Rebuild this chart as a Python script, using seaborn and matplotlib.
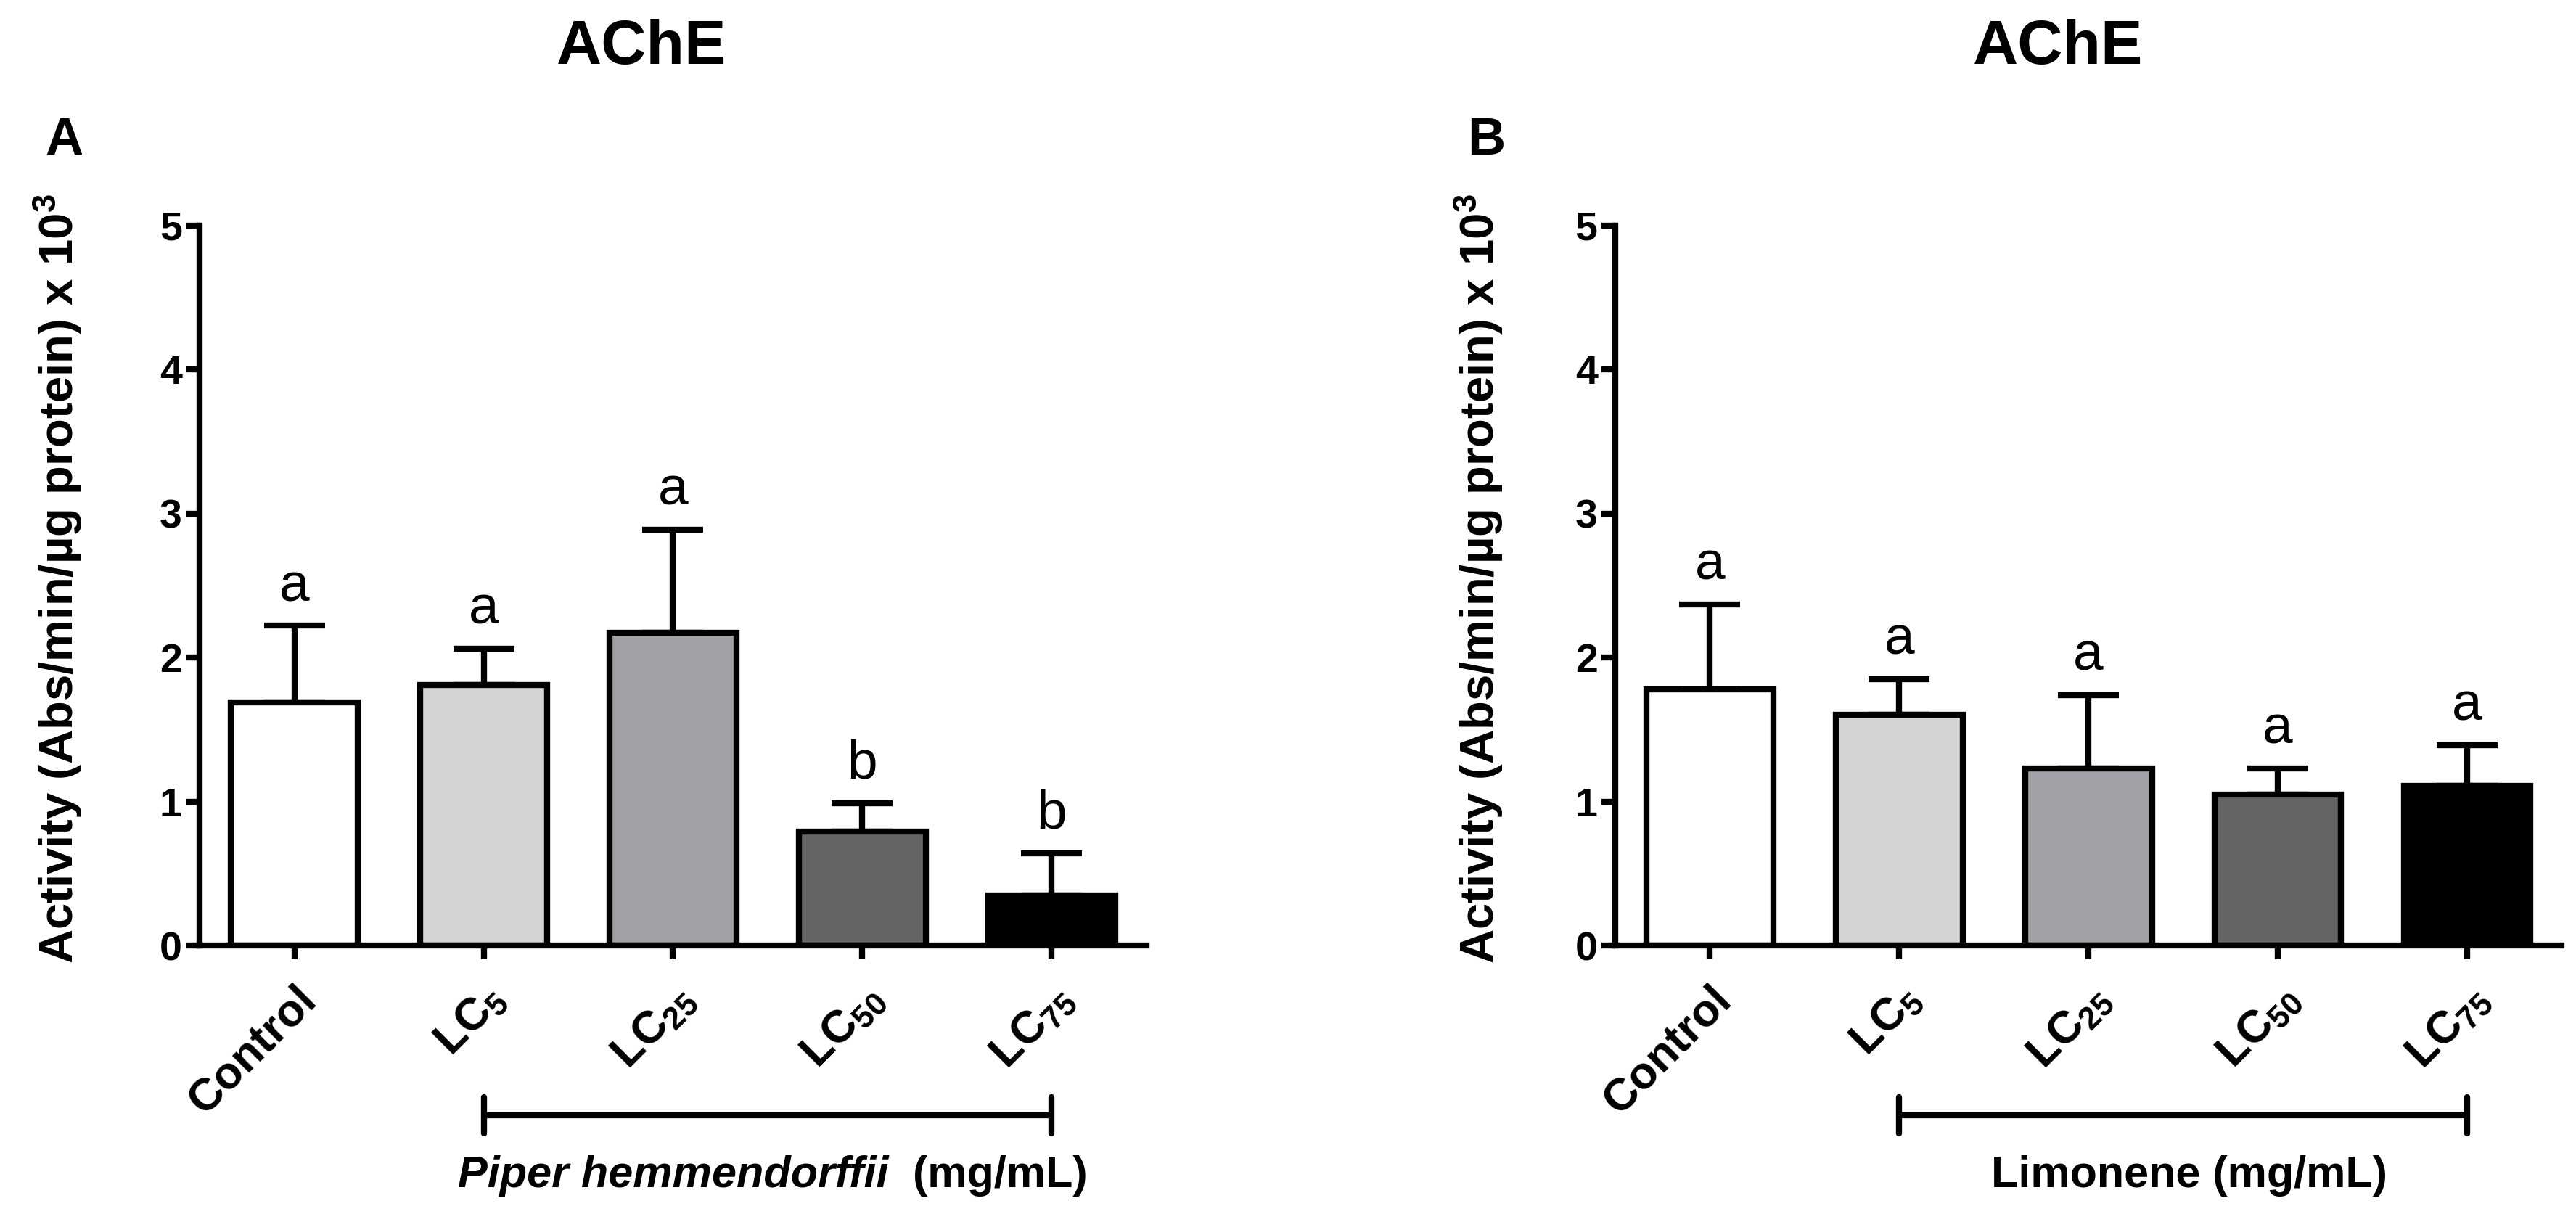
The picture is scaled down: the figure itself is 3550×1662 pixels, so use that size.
import matplotlib
matplotlib.use("Agg")
import matplotlib.pyplot as plt
import matplotlib.transforms as mtransforms
import numpy as np
import pandas as pd
import seaborn as sns

# data
groups = ["Control", "LC5", "LC25", "LC50", "LC75"]
tick_labels = ["Control", "LC$_{5}$", "LC$_{25}$", "LC$_{50}$", "LC$_{75}$"]
bar_colors = ["#ffffff", "#d4d4d4", "#a1a0a6", "#646464", "#000000"]

piper_mean = [1.69, 1.81, 2.17, 0.79, 0.35]
piper_sem = [0.53, 0.25, 0.72, 0.20, 0.29]
piper_letters = ["a", "a", "a", "b", "b"]

limonene_mean = [1.78, 1.60, 1.23, 1.05, 1.11]
limonene_sem = [0.59, 0.25, 0.51, 0.18, 0.28]
limonene_letters = ["a", "a", "a", "a", "a"]

plt.rcParams["font.family"] = ["Liberation Sans", "DejaVu Sans"]
plt.rcParams["mathtext.default"] = "regular"

LW = 6
TICK_FS = 40
YLABEL = "Activity (Abs/min/\u00b5g protein) x 10$^{3}$"

fig = plt.figure(figsize=(35.5, 16.62), dpi=100)
fig.set_facecolor("w")


def draw_panel(ax, means, sems, letters):
    df = pd.DataFrame({"group": groups, "activity": means})
    sns.barplot(data=df, x="group", y="activity", hue="group", order=groups,
                hue_order=groups, palette=bar_colors, legend=False,
                edgecolor="black", linewidth=LW, width=0.67, saturation=1,
                errorbar=None, ax=ax)
    x = np.arange(len(groups))
    ax.errorbar(x, means, yerr=[np.zeros(len(sems)), sems], fmt="none",
                ecolor="black", elinewidth=LW, capsize=30, capthick=LW, zorder=0.5)
    tops = np.array(means) + np.array(sems)
    for xi, top, lab in zip(x, tops, letters):
        ax.annotate(lab, (xi, top), xytext=(0, 14), textcoords="offset points",
                    ha="center", va="bottom", fontsize=54)
    ax.set_xlim(-0.5, 4.5)
    ax.set_ylim(0, 5)
    ax.set_yticks(range(6))
    ax.set_xlabel("")
    ax.set_ylabel("")
    sns.despine(ax=ax)
    for s in ["left", "bottom"]:
        ax.spines[s].set_linewidth(LW)
        ax.spines[s].set_capstyle("projecting")
    ax.tick_params(axis="both", width=LW, length=14, labelsize=TICK_FS)
    ax.set_xticks(x)
    ax.set_xticklabels(tick_labels, rotation=45, ha="right",
                       rotation_mode="anchor", fontweight="bold", fontsize=45)
    ax.tick_params(axis="x", pad=18)
    for t in ax.get_yticklabels():
        t.set_fontweight("bold")
    # bracket under the treatment groups
    trans = mtransforms.blended_transform_factory(ax.transData, ax.transAxes)
    yb = -0.236
    ax.plot([1, 4], [yb, yb], color="black", lw=LW, transform=trans, clip_on=False,
            solid_capstyle="butt")
    for xe in (1, 4):
        ax.plot([xe, xe], [yb - 0.025, yb + 0.025], color="black", lw=LW,
                transform=trans, clip_on=False, solid_capstyle="round")


axA = fig.add_axes([0.0775, 0.216, 0.3675, 0.597])
axB = fig.add_axes([0.627, 0.216, 0.3675, 0.597])
draw_panel(axA, piper_mean, piper_sem, piper_letters)
draw_panel(axB, limonene_mean, limonene_sem, limonene_letters)

# titles, panel letters, y labels
fig.text(0.249, 0.96, "AChE", ha="center", va="center", fontsize=62, fontweight="bold")
fig.text(0.799, 0.96, "AChE", ha="center", va="center", fontsize=62, fontweight="bold")
fig.text(0.025, 0.883, "A", ha="center", va="center", fontsize=52, fontweight="bold")
fig.text(0.577, 0.883, "B", ha="center", va="center", fontsize=52, fontweight="bold")
fig.text(0.0223, 0.52, YLABEL, rotation=90, ha="center", va="center",
         fontsize=47, fontweight="bold")
fig.text(0.574, 0.52, YLABEL, rotation=90, ha="center", va="center",
         fontsize=47, fontweight="bold")

# bottom labels
fig.canvas.draw()
renderer = fig.canvas.get_renderer()
t1 = fig.text(0, 0.025, "Piper hemmendorffii", ha="left", va="center",
              fontsize=44, fontweight="bold", fontstyle="italic")
t2 = fig.text(0, 0.025, "  (mg/mL)", ha="left", va="center",
              fontsize=44, fontweight="bold")
w1 = t1.get_window_extent(renderer).width / fig.bbox.width
w2 = t2.get_window_extent(renderer).width / fig.bbox.width
x0 = 0.30 - (w1 + w2) / 2
t1.set_x(x0)
t2.set_x(x0 + w1)
fig.text(0.85, 0.025, "Limonene (mg/mL)", ha="center", va="center",
         fontsize=44, fontweight="bold")

fig.savefig("out.png", dpi=100, facecolor="w")
